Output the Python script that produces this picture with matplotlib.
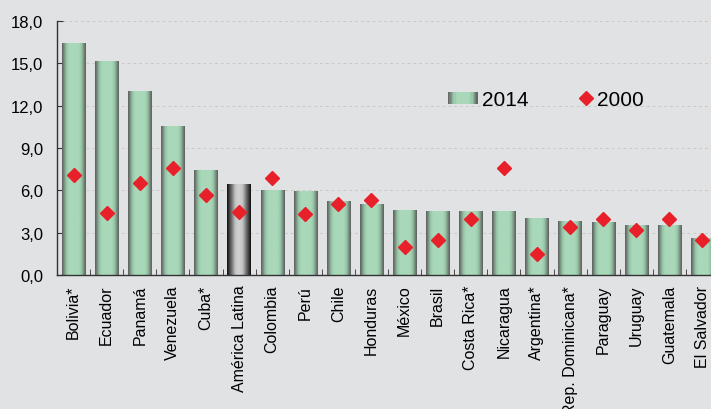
import numpy as np
import matplotlib.pyplot as plt
from matplotlib.colors import LinearSegmentedColormap
from matplotlib.patches import Rectangle
from matplotlib.lines import Line2D
from matplotlib.legend_handler import HandlerBase

paises = ['Bolivia*', 'Ecuador', 'Panamá', 'Venezuela', 'Cuba*', 'América Latina',
          'Colombia', 'Perú', 'Chile', 'Honduras', 'México', 'Brasil', 'Costa Rica*',
          'Nicaragua', 'Argentina*', 'Rep. Dominicana*', 'Paraguay', 'Uruguay',
          'Guatemala', 'El Salvador']
v2014 = [16.4, 15.1, 13.0, 10.5, 7.4, 6.4, 6.0, 5.9, 5.2, 5.0, 4.6, 4.5, 4.5,
         4.5, 4.0, 3.8, 3.7, 3.5, 3.5, 2.6]
v2000 = [7.1, 4.4, 6.5, 7.6, 5.7, 4.5, 6.9, 4.3, 5.0, 5.3, 2.0, 2.5, 4.0,
         7.6, 1.5, 3.4, 4.0, 3.2, 4.0, 2.5]
yticks = [0, 3, 6, 9, 12, 15, 18]
ytick_labels = ['0,0', '3,0', '6,0', '9,0', '12,0', '15,0', '18,0']

bg = '#e1e2e4'
green_cmap = LinearSegmentedColormap.from_list(
    'g', [(0, '#5e5e5e'), (0.18, '#96c6a6'), (0.3, '#a8d8b9'), (0.7, '#a8d8b9'),
          (0.82, '#96c6a6'), (1, '#5e5e5e')])
gray_cmap = LinearSegmentedColormap.from_list(
    'k', [(0, '#101010'), (0.35, '#c4c4c4'), (0.5, '#d2d2d2'), (0.65, '#c4c4c4'), (1, '#101010')])

plt.rcParams['font.family'] = ['Liberation Sans', 'DejaVu Sans']

fig = plt.figure(figsize=(7.11, 4.10), dpi=100, facecolor=bg)
ax = fig.add_axes([57 / 711, 134 / 410, 662 / 711, 254 / 410])
ax.set_facecolor(bg)

x = np.arange(len(paises))
bars = ax.bar(x, v2014, width=0.7, color='none', zorder=2)
grad = np.linspace(0, 1, 64).reshape(1, -1)
for i, b in enumerate(bars):
    cmap = gray_cmap if paises[i] == 'América Latina' else green_cmap
    x0, y0 = b.get_x(), b.get_y()
    ax.imshow(grad, cmap=cmap, aspect='auto', interpolation='bilinear',
              extent=[x0, x0 + b.get_width(), y0, y0 + b.get_height()], zorder=2)

ax.plot(x, v2000, linestyle='none', marker='D', markersize=7.5, color='#e8202a',
        markeredgecolor='#e8202a', zorder=3)

ax.set_xlim(-0.5, len(paises) - 0.5)
ax.set_ylim(0, 18)
ax.set_yticks(yticks)
ax.set_yticklabels(ytick_labels)
ax.yaxis.grid(True, linestyle=(0, (3, 3)), color='#cacaca', linewidth=0.7, zorder=0)
ax.set_axisbelow(True)

ax.set_xticks(x)
ax.set_xticklabels(paises, rotation=90, fontsize=11.5)
ax.tick_params(axis='x', length=0, pad=7)
ax.set_xticks(np.arange(-0.5, len(paises), 1), minor=True)
ax.tick_params(axis='x', which='minor', length=4, color='#333333', direction='in')
ax.tick_params(axis='y', length=4, color='#333333', direction='in', labelsize=12, pad=10)

for s in ['top', 'right']:
    ax.spines[s].set_visible(False)
for s in ['left', 'bottom']:
    ax.spines[s].set_color('#333333')
    ax.spines[s].set_linewidth(1.0)


class GradHandler(HandlerBase):
    def create_artists(self, legend, orig, xd, yd, w, h, fontsize, trans):
        n = 24
        arts = []
        for k in range(n):
            r = Rectangle((-xd + w * k / n, -yd), w / n + 0.3, h,
                          facecolor=green_cmap((k + 0.5) / n), edgecolor='none',
                          transform=trans)
            arts.append(r)
        return arts


class DiamondHandler(HandlerBase):
    def create_artists(self, legend, orig, xd, yd, w, h, fontsize, trans):
        m = Line2D([-xd + w * 0.76], [-yd + h / 2], linestyle='none', marker='D',
                   markersize=7.5, color='#e8202a', transform=trans)
        return [m]


h1 = Rectangle((0, 0), 1, 1)
h2 = Line2D([], [], linestyle='none', marker='D', color='#e8202a')
ax.legend([h1, h2], ['2014', '2000'],
          handler_map={Rectangle: GradHandler(), Line2D: DiamondHandler()},
          loc='center left', bbox_to_anchor=(0.591, 0.69), ncol=2, frameon=False,
          fontsize=15, handlelength=1.4, handleheight=0.55, handletextpad=0.2,
          columnspacing=1.7, borderpad=0, borderaxespad=0)

fig.savefig('out.png', dpi=100, facecolor=bg)
